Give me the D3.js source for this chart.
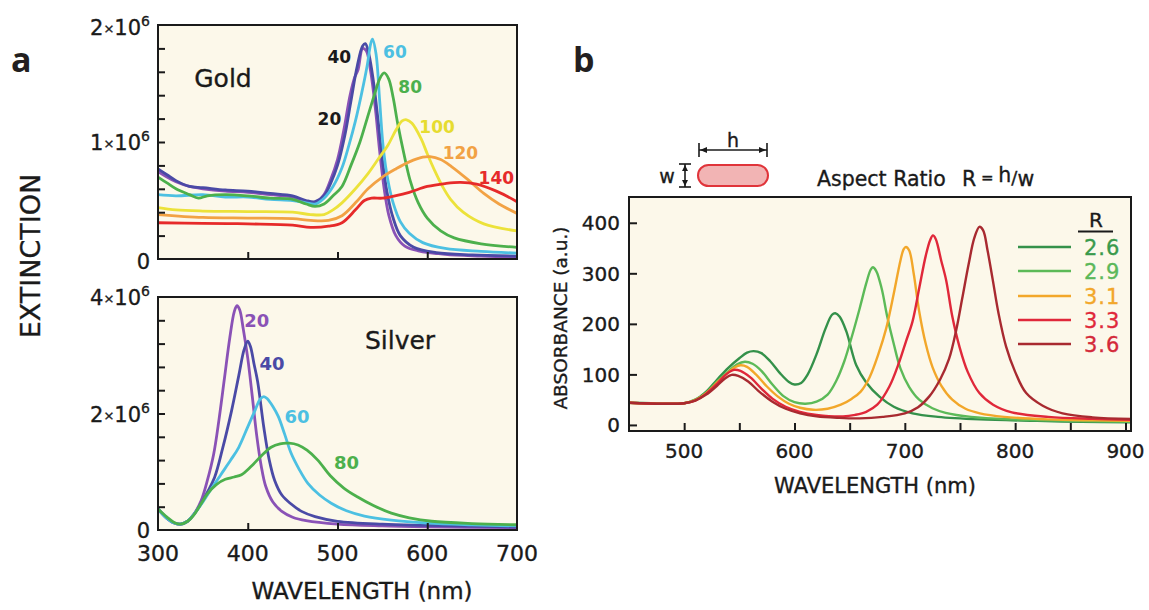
<!DOCTYPE html>
<html>
<head>
<meta charset="utf-8">
<script src="https://cdn.jsdelivr.net/npm/d3@7"></script>
<style>
  body { margin: 0; background: #fff; }
  svg { display: block; font-family: "DejaVu Sans", sans-serif; }
  svg text { stroke: currentColor; stroke-width: 0.35px; }
</style>
</head>
<body>
<svg id="chart" width="1149" height="610"></svg>
<script>
// ---- panel a, gold (extinction in units of 1e6) ----
var goldSizes = ['20', '40', '60', '80', '100', '120', '140'];
var gold20 = [[300,0.75],[310,0.70],[320,0.66],[335,0.62],[350,0.60],[375,0.58],[400,0.57],[425,0.55],[450,0.53],[465,0.49],[475,0.48],[485,0.55],[492,0.67],[500,0.85],[507,1.10],[514,1.40],[519,1.55],[523,1.62],[528,1.80],[532,1.78],[537,1.60],[542,1.30],[547,0.92],[552,0.60],[557,0.38],[565,0.20],[575,0.11],[590,0.07],[620,0.04],[660,0.025],[700,0.015]];
var gold40 = [[300,0.77],[310,0.72],[320,0.67],[335,0.62],[350,0.61],[375,0.59],[400,0.58],[425,0.56],[450,0.54],[465,0.50],[475,0.49],[485,0.54],[492,0.64],[500,0.80],[508,1.05],[515,1.35],[522,1.65],[528,1.82],[531,1.84],[535,1.75],[540,1.52],[545,1.20],[550,0.85],[555,0.58],[562,0.35],[570,0.20],[585,0.10],[610,0.055],[650,0.035],[700,0.025]];
var gold60 = [[300,0.55],[320,0.54],[350,0.55],[375,0.53],[400,0.53],[425,0.51],[450,0.50],[465,0.48],[475,0.47],[485,0.52],[495,0.62],[505,0.78],[513,0.98],[520,1.18],[527,1.42],[533,1.65],[537,1.84],[539,1.88],[543,1.75],[547,1.35],[551,0.95],[556,0.68],[562,0.48],[570,0.32],[580,0.22],[595,0.14],[620,0.09],[660,0.065],[700,0.05]];
var gold80 = [[300,0.70],[310,0.65],[320,0.60],[335,0.55],[345,0.52],[355,0.54],[375,0.55],[400,0.54],[425,0.52],[450,0.51],[465,0.47],[475,0.45],[485,0.47],[495,0.54],[505,0.62],[515,0.80],[525,1.00],[533,1.20],[541,1.40],[547,1.54],[552,1.59],[557,1.54],[562,1.38],[567,1.16],[574,0.90],[581,0.67],[590,0.48],[600,0.35],[615,0.24],[630,0.18],[660,0.13],[700,0.10]];
var gold100 = [[300,0.44],[320,0.42],[350,0.41],[400,0.405],[450,0.40],[470,0.38],[485,0.38],[495,0.42],[505,0.48],[520,0.60],[534,0.73],[545,0.85],[556,0.97],[565,1.10],[572,1.18],[577,1.19],[583,1.16],[593,1.03],[600,0.90],[608,0.76],[617,0.62],[626,0.51],[640,0.40],[663,0.30],[700,0.24]];
var gold120 = [[300,0.38],[350,0.355],[400,0.35],[450,0.345],[470,0.33],[490,0.33],[505,0.37],[520,0.48],[534,0.60],[550,0.70],[565,0.77],[580,0.83],[595,0.87],[603,0.875],[615,0.85],[627,0.79],[645,0.68],[663,0.56],[680,0.47],[700,0.39]];
var gold140 = [[300,0.31],[350,0.305],[400,0.30],[450,0.29],[470,0.27],[490,0.28],[505,0.31],[520,0.42],[530,0.50],[538,0.52],[550,0.52],[564,0.54],[580,0.57],[600,0.62],[620,0.645],[637,0.655],[655,0.64],[677,0.58],[700,0.49]];

// ---- panel a, silver ----
var silverSizes = ['20', '40', '60', '80'];
var silver20 = [[300,0.36],[310,0.20],[318,0.12],[325,0.10],[333,0.15],[340,0.27],[348,0.50],[355,0.85],[362,1.30],[368,1.90],[374,2.60],[380,3.30],[385,3.75],[388,3.85],[391,3.78],[395,3.45],[400,2.95],[405,2.30],[410,1.62],[415,1.10],[420,0.75],[428,0.48],[438,0.32],[450,0.22],[465,0.16],[500,0.10],[550,0.07],[600,0.055],[700,0.04]];
var silver40 = [[300,0.36],[310,0.20],[318,0.12],[325,0.10],[333,0.15],[340,0.27],[348,0.45],[355,0.65],[363,0.90],[372,1.40],[382,2.05],[390,2.65],[396,3.10],[400,3.24],[403,3.15],[407,2.85],[411,2.55],[418,1.75],[424,1.20],[430,0.85],[438,0.60],[448,0.45],[460,0.32],[475,0.23],[500,0.15],[550,0.10],[600,0.08],[700,0.05]];
var silver60 = [[300,0.36],[310,0.20],[318,0.12],[325,0.10],[333,0.15],[340,0.27],[350,0.48],[360,0.72],[370,0.95],[381,1.20],[390,1.42],[400,1.77],[408,2.05],[414,2.25],[418,2.29],[422,2.25],[428,2.12],[434,1.95],[441,1.65],[448,1.33],[457,1.05],[467,0.80],[480,0.60],[493,0.46],[510,0.33],[530,0.24],[560,0.17],[600,0.12],[650,0.09],[700,0.07]];
var silver80 = [[300,0.36],[310,0.22],[318,0.13],[325,0.10],[333,0.15],[340,0.26],[348,0.45],[355,0.62],[365,0.78],[375,0.87],[385,0.91],[393,0.95],[403,1.08],[415,1.27],[426,1.42],[436,1.48],[446,1.49],[456,1.46],[466,1.37],[478,1.20],[492,0.93],[507,0.72],[522,0.57],[540,0.42],[560,0.29],[580,0.21],[605,0.15],[650,0.11],[700,0.09]];

// ---- panel b, gold nanorods, absorbance (a.u.) ----
var ratios = ['2.6', '2.9', '3.1', '3.3', '3.6'];
var r26 = [[450,44],[470,43],[490,42],[500,43],[510,50],[520,66],[530,90],[540,113],[550,132],[557,143],[563,146],[570,142],[578,126],[587,102],[595,85],[600,80],[606,83],[612,100],[620,140],[628,190],[634,218],[637,221],[641,214],[647,185],[656,118],[665,84],[677,56],[690,36],[707,23],[730,16],[768,11],[820,8],[860,6],[905,5]];
var r29 = [[450,44],[480,42],[500,43],[510,49],[520,64],[530,86],[540,106],[548,120],[555,125],[562,121],[570,107],[580,80],[590,57],[600,45],[610,42],[620,46],[630,60],[638,88],[645,125],[652,175],[659,230],[665,280],[669,307],[671,312],[674,305],[679,270],[684,215],[690,160],[696,112],[704,75],[713,50],[725,33],[737,24],[760,16],[797,11],[850,8],[905,6]];
var r31 = [[450,44],[480,42],[500,43],[510,49],[520,63],[530,84],[540,104],[546,114],[551,118],[557,115],[565,100],[575,76],[585,56],[595,42],[605,34],[617,30],[630,32],[642,40],[652,52],[660,66],[668,94],[676,140],[683,190],[690,260],[696,325],[699,348],[701,352],[704,345],[708,300],[713,225],[719,160],[725,115],[733,78],[743,50],[755,32],[768,23],[790,16],[830,11],[870,9],[905,8]];
var r33 = [[450,44],[480,42],[500,43],[510,48],[520,62],[530,82],[538,100],[545,109],[551,107],[560,94],[570,72],[580,52],[592,36],[605,26],[620,20],[644,17],[655,20],[665,26],[675,40],[686,76],[695,125],[701,165],[707,205],[713,270],[719,335],[723,366],[725.5,375],[728,368],[733,325],[737.5,286],[743,215],[749.5,155],[757,105],[767.6,63],[780,40],[797,25],[830,16],[870,12],[905,10]];
var r36 = [[450,44],[480,42],[500,43],[510,48],[520,60],[530,78],[537,92],[543,99],[549,97],[558,86],[568,66],[580,46],[592,32],[605,23],[620,17],[640,14],[659,13],[680,16],[700,23],[712,35],[722,56],[732,90],[740,130],[746.6,188],[752,250],[758,320],[763,370],[767.6,392],[771,385],[775,345],[779.7,287],[785,220],[791.8,155],[800,105],[810,63],[825,38],[843,23],[870,15],[905,12]];

var goldColors = ['#8a52b6', '#4a4aa6', '#4cc0e2', '#4cb04c', '#ece23a', '#f2a244', '#e62a2a'];
var silverColors = ['#8a52b6', '#4a4aa6', '#4cc0e2', '#4cb04c'];
var rodColors = ['#34914a', '#5cba58', '#f2a72a', '#e0283a', '#a82a30'];
var rodTextColors = ['#3a9a4c', '#5cb85a', '#f2a72a', '#e0283a', '#d42a3a'];
var cream = '#fcf8ea';
var ink = '#1a1a1a';

var svg = d3.select('#chart');

// ---------- scales ----------
var xA = d3.scaleLinear().domain([300, 700]).range([158, 517]);
var yGold = d3.scaleLinear().domain([0, 2]).range([259, 25]);
var ySilver = d3.scaleLinear().domain([0, 4]).range([530, 297]);
var xB = d3.scaleLinear().domain([450, 905]).range([629, 1131]);
var yB = d3.scaleLinear().domain([-12, 451]).range([431, 197]);

function box(x, y) {
  var r = x.range(), d = y.range();
  svg.append('rect')
    .attr('x', r[0]).attr('y', d[1])
    .attr('width', r[1] - r[0]).attr('height', d[0] - d[1])
    .attr('fill', cream);
}
function frame(x, y) {
  var r = x.range(), d = y.range();
  svg.append('rect')
    .attr('x', r[0]).attr('y', d[1])
    .attr('width', r[1] - r[0]).attr('height', d[0] - d[1])
    .attr('fill', 'none').attr('stroke', ink).attr('stroke-width', 2);
}

function drawCurves(data, colors, x, y, w) {
  var line = d3.line()
    .x(function(d) { return x(d[0]) })
    .y(function(d) { return y(d[1]) })
    .curve(d3.curveCatmullRom.alpha(0.5));
  svg.append('g').selectAll('path')
    .data(data)
    .enter().append('path')
      .attr('d', line)
      .attr('fill', 'none')
      .attr('stroke', function(d, i) { return colors[i] })
      .attr('stroke-width', w)
      .attr('stroke-linejoin', 'round');
}

function ticks(axis, tr) {
  var g = svg.append('g').attr('transform', tr).call(axis);
  g.select('.domain').remove();
  g.selectAll('line').attr('stroke', ink).attr('stroke-width', 2);
  g.selectAll('text').remove();
  return g;
}

// ---------- panel a: gold ----------
box(xA, yGold);
drawCurves([gold20, gold40, gold60, gold80, gold100, gold120, gold140], goldColors, xA, yGold, 2.8);
ticks(d3.axisLeft(yGold).tickValues(d3.range(0.2, 2, 0.2)).tickSize(-7), 'translate(158,0)');
ticks(d3.axisBottom(xA).tickValues([400, 500, 600]).tickSize(-7), 'translate(0,259)');
frame(xA, yGold);

// ---------- panel a: silver ----------
box(xA, ySilver);
drawCurves([silver20, silver40, silver60, silver80], silverColors, xA, ySilver, 2.8);
ticks(d3.axisLeft(ySilver).tickValues(d3.range(0.4, 4, 0.4)).tickSize(-7), 'translate(158,0)');
ticks(d3.axisBottom(xA).tickValues([400, 500, 600]).tickSize(-7), 'translate(0,530)');
frame(xA, ySilver);

// power-of-ten y labels
function sciLabel(txt, yPos) {
  var t = svg.append('text')
    .attr('x', 150).attr('y', yPos + 8)
    .attr('text-anchor', 'end')
    .attr('font-size', 21).attr('fill', ink).style('color', ink);
  if (txt === '0') { t.text('0'); return; }
  t.append('tspan').text(txt);
  t.append('tspan').attr('font-size', 13).attr('dy', -2).text('×');
  t.append('tspan').attr('dy', 2).text('10');
  t.append('tspan').attr('font-size', 14).attr('dy', -9).text('6');
}
sciLabel('2', yGold(2) + 2);
sciLabel('1', yGold(1));
sciLabel('0', yGold(0) + 2);
sciLabel('4', ySilver(4));
sciLabel('2', ySilver(2));
sciLabel('0', ySilver(0));

svg.append('g').selectAll('text')
  .data([300, 400, 500, 600, 700])
  .enter().append('text')
    .attr('x', function(d) { return xA(d) })
    .attr('y', 561)
    .attr('text-anchor', 'middle')
    .attr('font-size', 22).attr('fill', ink).style('color', ink)
    .text(function(d) { return d });

svg.append('text')
  .attr('x', 362).attr('y', 599)
  .attr('text-anchor', 'middle')
  .attr('font-size', 23).attr('fill', ink).style('color', ink)
  .text('WAVELENGTH (nm)');

svg.append('text')
  .attr('transform', 'translate(40,256) rotate(-90)')
  .attr('text-anchor', 'middle')
  .attr('font-size', 27).attr('fill', ink).style('color', ink)
  .text('EXTINCTION');

// curve annotations (data coordinates)
var goldNotes = [[502, 1.73, '40', ink], [491, 1.20, '20', ink], [564, 1.77, '60', goldColors[2]],
  [581, 1.47, '80', goldColors[3]], [611, 1.13, '100', '#e6dc30'], [637, 0.905, '120', goldColors[5]], [677, 0.69, '140', goldColors[6]]];
svg.append('g').selectAll('text')
  .data(goldNotes)
  .enter().append('text')
    .attr('x', function(d) { return xA(d[0]) })
    .attr('y', function(d) { return yGold(d[1]) + 6 })
    .attr('text-anchor', 'middle')
    .attr('font-size', 17).attr('font-weight', 'bold')
    .attr('fill', function(d) { return d[3] })
    .style('stroke', 'none')
    .text(function(d) { return d[2] });

var silverNotes = [[410, 3.6, '20'], [427, 2.87, '40'], [455, 1.95, '60'], [510, 1.17, '80']];
svg.append('g').selectAll('text')
  .data(silverNotes)
  .enter().append('text')
    .attr('x', function(d) { return xA(d[0]) })
    .attr('y', function(d) { return ySilver(d[1]) + 7 })
    .attr('text-anchor', 'middle')
    .attr('font-size', 18).attr('font-weight', 'bold')
    .attr('fill', function(d, i) { return silverColors[i] })
    .style('stroke', 'none')
    .text(function(d) { return d[2] });

svg.append('text').attr('x', 223).attr('y', 87).attr('text-anchor', 'middle')
  .attr('font-size', 25).attr('fill', ink).style('color', ink).text('Gold');
svg.append('text').attr('x', 400).attr('y', 349).attr('text-anchor', 'middle')
  .attr('font-size', 25).attr('fill', ink).style('color', ink).text('Silver');

svg.append('text').attr('x', 11).attr('y', 72)
  .attr('font-family', 'Open Sans, DejaVu Sans, sans-serif')
  .attr('font-size', 34).attr('font-weight', 'bold').attr('fill', '#231f20').style('stroke', 'none').text('a');
svg.append('text').attr('x', 573).attr('y', 72)
  .attr('font-family', 'Open Sans, DejaVu Sans, sans-serif')
  .attr('font-size', 34).attr('font-weight', 'bold').attr('fill', '#231f20').style('stroke', 'none').text('b');

// ---------- panel b ----------
box(xB, yB);
drawCurves([r26, r29, r31, r33, r36], rodColors, xB, yB, 2.4);
ticks(d3.axisLeft(yB).tickValues([0, 100, 200, 300, 400]).tickSize(-8), 'translate(629,0)');
ticks(d3.axisBottom(xB).tickValues(d3.range(500, 901, 50)).tickSize(-8), 'translate(0,431)');
frame(xB, yB);

svg.append('g').selectAll('text')
  .data([0, 100, 200, 300, 400])
  .enter().append('text')
    .attr('x', 620)
    .attr('y', function(d) { return yB(d) + 7.5 })
    .attr('text-anchor', 'end')
    .attr('font-size', 20).attr('fill', ink).style('color', ink)
    .text(function(d) { return d });

svg.append('g').selectAll('text')
  .data([500, 600, 700, 800, 900])
  .enter().append('text')
    .attr('x', function(d) { return xB(d) })
    .attr('y', 458)
    .attr('text-anchor', 'middle')
    .attr('font-size', 20).attr('fill', ink).style('color', ink)
    .text(function(d) { return d });

svg.append('text')
  .attr('x', 875).attr('y', 493)
  .attr('text-anchor', 'middle')
  .attr('font-size', 21).attr('fill', ink).style('color', ink)
  .text('WAVELENGTH (nm)');

svg.append('text')
  .attr('transform', 'translate(567,318) rotate(-90)')
  .attr('text-anchor', 'middle')
  .attr('font-size', 18.5).attr('fill', ink).style('color', ink)
  .text('ABSORBANCE (a.u.)');

// legend
var legend = svg.append('g');
legend.append('text').attr('x', 1096).attr('y', 227).attr('text-anchor', 'middle')
  .attr('font-size', 20).attr('fill', ink).style('color', ink).text('R');
legend.append('line').attr('x1', 1078).attr('x2', 1113).attr('y1', 231.5).attr('y2', 231.5)
  .attr('stroke', ink).attr('stroke-width', 2);
var rowY = [247, 271, 296, 320, 344];
var rows = legend.selectAll('g.row')
  .data(ratios)
  .enter().append('g').attr('class', 'row')
    .attr('transform', function(d, i) { return 'translate(0,' + rowY[i] + ')' });
rows.append('line').attr('x1', 1018).attr('x2', 1071)
  .attr('stroke', function(d, i) { return rodColors[i] }).attr('stroke-width', 2.4);
rows.append('text').attr('x', 1084).attr('y', 7.5)
  .attr('font-size', 21).attr('letter-spacing', 1)
  .attr('fill', function(d, i) { return rodTextColors[i] })
  .style('color', function(d, i) { return rodTextColors[i] })
  .text(function(d) { return d });

// rod sketch and aspect ratio caption
var head = svg.append('g').attr('stroke', ink).attr('fill', 'none').attr('stroke-width', 1.6);
head.append('rect').attr('x', 698).attr('y', 165).attr('width', 70).attr('height', 21).attr('rx', 10.5)
  .attr('fill', '#f2b4b4').attr('stroke', '#e0343a').attr('stroke-width', 2);
head.append('line').attr('x1', 699).attr('x2', 767).attr('y1', 150).attr('y2', 150);
head.append('line').attr('x1', 699).attr('x2', 699).attr('y1', 143).attr('y2', 157);
head.append('line').attr('x1', 767).attr('x2', 767).attr('y1', 143).attr('y2', 157);
head.append('path').attr('d', 'M700,150 l7,-3 l0,6 z M766,150 l-7,-3 l0,6 z').attr('fill', ink).attr('stroke', 'none');
head.append('line').attr('x1', 685).attr('x2', 685).attr('y1', 164).attr('y2', 187);
head.append('line').attr('x1', 679).attr('x2', 691).attr('y1', 164).attr('y2', 164);
head.append('line').attr('x1', 679).attr('x2', 691).attr('y1', 187).attr('y2', 187);
head.append('path').attr('d', 'M685,165 l-3,6 l6,0 z M685,186 l-3,-6 l6,0 z').attr('fill', ink).attr('stroke', 'none');

svg.append('text').attr('x', 733).attr('y', 147).attr('text-anchor', 'middle')
  .attr('font-size', 19).attr('fill', ink).style('color', ink).text('h');
svg.append('text').attr('x', 667).attr('y', 183).attr('text-anchor', 'middle')
  .attr('font-size', 19).attr('fill', ink).style('color', ink).text('w');
svg.append('text').attr('x', 817).attr('y', 186)
  .attr('font-size', 20.5).attr('fill', ink).style('color', ink).text('Aspect Ratio');
var rt = svg.append('text').attr('x', 962).attr('y', 186)
  .attr('font-size', 20.5).attr('fill', ink).style('color', ink);
rt.append('tspan').text('R');
rt.append('tspan').attr('font-size', 15).attr('dy', -3).text(' = ');
rt.append('tspan').attr('dy', -1).text('h');
rt.append('tspan').attr('font-size', 18).attr('dy', 2).text('/');
rt.append('tspan').attr('dy', 2).text('w');
</script>
</body>
</html>
